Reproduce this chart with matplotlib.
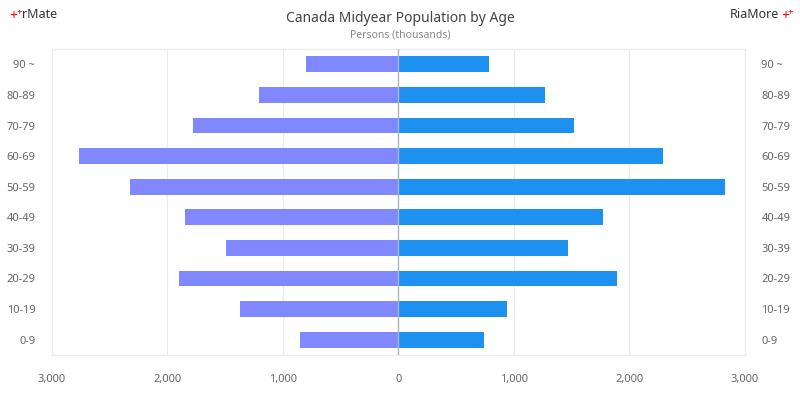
import numpy as np
import matplotlib.pyplot as plt
from matplotlib.ticker import FuncFormatter

plt.rcParams['font.family'] = ['Noto Sans', 'DejaVu Sans']

# Data (thousands of persons)
ages = ['0-9', '10-19', '20-29', '30-39', '40-49', '50-59', '60-69', '70-79', '80-89', '90 ~']
left_vals = [856, 1374, 1900, 1495, 1850, 2325, 2766, 1780, 1210, 804]
right_vals = [743, 942, 1893, 1469, 1772, 2826, 2290, 1521, 1270, 787]
xticks = [-3000, -2000, -1000, 0, 1000, 2000, 3000]

fig = plt.figure(figsize=(8, 4), dpi=100)
ax = fig.add_axes([0.065, 0.1125, 0.866, 0.765])

y = np.arange(len(ages))
ax.barh(y, [-v for v in left_vals], height=0.52, color='#8088FF', zorder=2)
ax.barh(y, right_vals, height=0.52, color='#1E90F0', zorder=2)

ax.set_xlim(-3000, 3000)
ax.set_ylim(-0.5, len(ages) - 0.5)
ax.set_xticks(xticks)
ax.xaxis.set_major_formatter(FuncFormatter(lambda v, p: f'{abs(int(v)):,}'))
ax.grid(axis='x', color='#ebebeb', linewidth=0.8, zorder=0)
ax.axvline(0, color='#b0b4c0', linewidth=1, zorder=3)

ax.set_yticks(y)
ax.set_yticklabels(ages)
ax.tick_params(axis='y', length=0, pad=12, labelsize=8, labelcolor='#666666',
               left=True, right=True, labelleft=True, labelright=True)
ax.tick_params(axis='x', length=0, pad=14, labelsize=8, labelcolor='#666666')

for s in ax.spines.values():
    s.set_color('#ebebeb')
    s.set_linewidth(0.8)

fig.text(0.5, 0.955, 'Canada Midyear Population by Age', ha='center', va='center',
         fontsize=10, color='#444444')
fig.text(0.5, 0.913, 'Persons (thousands)', ha='center', va='center',
         fontsize=7.5, color='#888888')

# logos
fig.text(0.012, 0.958, '+', color='red', fontsize=10, fontweight='bold', ha='left', va='center')
fig.text(0.021, 0.970, '+', color='red', fontsize=7, fontweight='bold', ha='left', va='center')
fig.text(0.028, 0.963, 'rMate', color='#333333', fontsize=9, ha='left', va='center')
fig.text(0.974, 0.963, 'RiaMore', color='#333333', fontsize=9, ha='right', va='center')
fig.text(0.976, 0.958, '+', color='red', fontsize=10, fontweight='bold', ha='left', va='center')
fig.text(0.985, 0.970, '+', color='red', fontsize=7, fontweight='bold', ha='left', va='center')

plt.savefig('out.png', dpi=100)
